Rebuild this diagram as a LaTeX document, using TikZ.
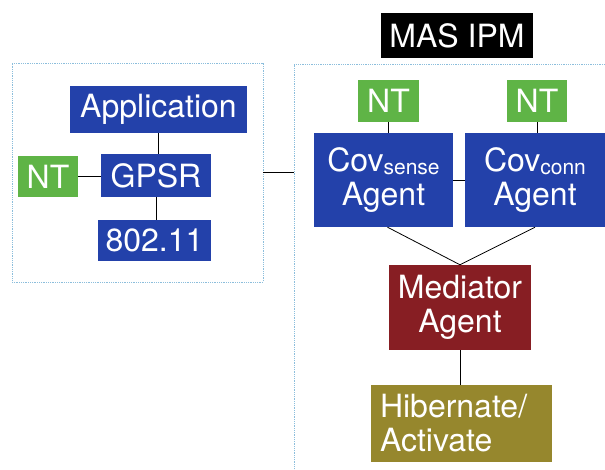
\documentclass[tikz,border=0pt]{standalone}
\usepackage{fontspec}
\setmainfont{TeX Gyre Heros}
\usepackage{tikz}
\definecolor{bluebox}{RGB}{35, 65, 170}
\definecolor{greenbox}{RGB}{95, 180, 70}
\definecolor{redbox}{RGB}{135, 30, 35}
\definecolor{olivebox}{RGB}{150, 135, 45}
\definecolor{frameblue}{RGB}{140, 190, 220}
\usetikzlibrary{positioning}
\newcommand{\lowsub}[1]{\raisebox{-3pt}{\fontsize{21}{21}\selectfont #1}}

\begin{document}
\begin{tikzpicture}[
  every node/.style={inner sep=0pt, text=white, font=\fontsize{32}{34}\selectfont},
  box/.style={rectangle, align=center},
  frame/.style={rectangle, draw=frameblue, line width=0.8pt, densely dotted}]
\useasboundingbox (0pt, 0pt) rectangle (605pt, -470pt);
\clip (0pt, 0pt) rectangle (605pt, -470pt);
% frames
\node (stack) [frame, minimum width=251pt, minimum height=219pt] at (137.5pt, -172.5pt) {};
\node (ipm) [frame, minimum width=346pt, minimum height=436pt] at (467.0pt, -282.0pt) {};
% left stack
\node (app) [box, fill=bluebox, minimum width=177pt, minimum height=47pt] at (158.5pt, -109.5pt) {Application};
\node (gpsr) [box, fill=bluebox, minimum width=110pt, minimum height=43pt] at (156.0pt, -175.5pt) {GPSR};
\node (ntl) [box, fill=greenbox, minimum width=60pt, minimum height=41pt] at (48.0pt, -176.5pt) {NT};
\node (mac) [box, fill=bluebox, minimum width=113pt, minimum height=41pt] at (154.5pt, -240.5pt) {802.11};
% right side
\node (title) [box, fill=black, minimum width=152pt, minimum height=45pt] at (457.0pt, -35.5pt) {MAS IPM};
\node (nts) [box, fill=greenbox, minimum width=61pt, minimum height=42pt] at (388.5pt, -101.0pt) {NT};
\node (ntc) [box, fill=greenbox, minimum width=60pt, minimum height=42pt] at (537.0pt, -101.0pt) {NT};
\node (covs) [box, fill=bluebox, minimum width=139pt, minimum height=94pt] at (383.5pt, -180.0pt) {Cov\lowsub{sense}\\Agent};
\node (covc) [box, fill=bluebox, minimum width=140pt, minimum height=94pt] at (535.0pt, -180.0pt) {Cov\lowsub{conn}\\Agent};
\node (med) [box, fill=redbox, minimum width=142pt, minimum height=85pt] at (460.0pt, -307.5pt) {Mediator\\Agent};
\node (hib) [box, fill=olivebox, inner xsep=9pt, text width=163pt, align=left, minimum height=77pt] at (461.5pt, -423.5pt) {Hibernate/\\Activate};
% links
\draw [line width=0.8, color=black] (app.south) to (app.south |- gpsr.north);
\draw [line width=0.8, color=black] (ntl.east) to (ntl.east -| gpsr.west);
\draw [line width=0.8, color=black] (gpsr.south) to (gpsr.south |- mac.north);
\draw [line width=0.8, color=black] (stack.east) to (stack.east -| ipm.west);
\draw [line width=0.8, color=black] (nts.south) to (nts.south |- covs.north);
\draw [line width=0.8, color=black] (ntc.south) to (ntc.south |- covc.north);
\draw [line width=0.8, color=black] (covs) to (covc);
\draw [line width=0.8, color=black] ([xshift=4pt]covs.south) to (med.north);
\draw [line width=0.8, color=black] (covc.south) to (med.north);
\draw [line width=0.8, color=black] (med.south) to (med.south |- hib.north);
\end{tikzpicture}
\end{document}
